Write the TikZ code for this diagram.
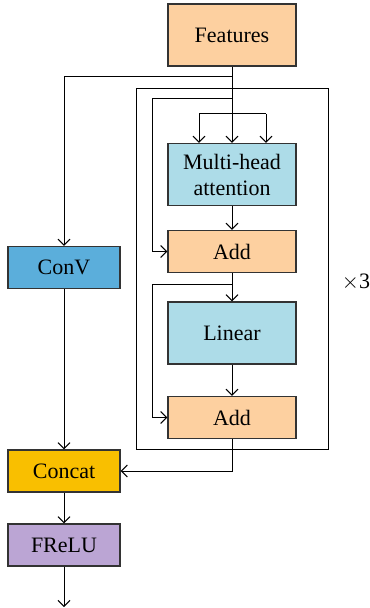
\documentclass[tikz,border=0pt]{standalone}
\usepackage{fontspec}
\setmainfont{Liberation Serif}
\usepackage{tikz}
\usetikzlibrary{arrows.meta}
\definecolor{peach}{HTML}{FDD0A0}
\definecolor{lblue}{HTML}{ADDCE8}
\definecolor{cblue}{HTML}{5BAEDB}
\definecolor{gold}{HTML}{F9BF00}
\definecolor{lilac}{HTML}{BBA5D4}
\begin{document}
\begin{tikzpicture}[x=0.5pt,y=-0.5pt,>={Straight Barb[length=3pt,width=6pt]},line width=0.5pt]
	\tikzstyle{block}=[draw=black!80,line width=0.6pt,minimum width=64pt,minimum height=31pt,inner sep=1pt,align=center,font=\fontsize{11}{13}\selectfont]
	\tikzstyle{thin}=[block,minimum height=21pt]
	\tikzstyle{side}=[block,minimum width=56pt,minimum height=21pt]
	\useasboundingbox (0,0) rectangle (369,608);
	\node[block,fill=peach](feat) at (232,35) {Features};
	\node[block,fill=lblue](mha) at (232,174.5) {Multi-head\\attention};
	\node[thin,fill=peach](add1) at (232,251.5) {Add};
	\node[block,fill=lblue](lin) at (232,333) {Linear};
	\node[thin,fill=peach](add2) at (232,417.5) {Add};
	\node[side,fill=cblue](conv) at (64,267.5) {ConV};
	\node[side,fill=gold](concat) at (64,471) {Concat};
	\node[side,fill=lilac](frelu) at (64,545) {FReLU};
	\node[font=\fontsize{11}{13}\selectfont](times) at (356,282) {$\times$3};
	\draw (136,89) rectangle (328,449);
	\coordinate (s0) at (232,77);
	\coordinate (r1) at (232,99);
	\coordinate (l1) at (152,99);
	\coordinate (bl) at (199,114);
	\coordinate (br) at (266,114);
	\coordinate (r2) at (232,285);
	\coordinate (l2) at (152,285);
	\coordinate (out) at (64,607);
	\draw[->](feat.south) -- (mha.north);
	\draw[->](s0) -| (conv.north);
	\draw[->](r1) -- (l1) |- (add1.west);
	\draw(bl) -- (br);
	\draw[->](bl) -- (bl |- mha.north);
	\draw[->](br) -- (br |- mha.north);
	\draw[->](mha.south) -- (add1.north);
	\draw[->](add1.south) -- (lin.north);
	\draw[->](r2) -- (l2) |- (add2.west);
	\draw[->](lin.south) -- (add2.north);
	\draw[->](add2.south) |- (concat.east);
	\draw[->](conv.south) -- (concat.north);
	\draw[->](concat.south) -- (frelu.north);
	\draw[->](frelu.south) -- (out);
\end{tikzpicture}
\end{document}
